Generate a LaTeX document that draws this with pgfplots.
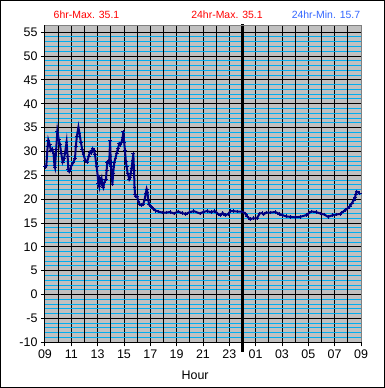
\documentclass[border=0pt]{standalone}
\usepackage{fontspec}
\setmainfont{Liberation Sans}
\usepackage{pgfplots}
\pgfplotsset{compat=1.18}
\definecolor{bggray}{RGB}{192,192,192}
\definecolor{navy}{RGB}{0,0,128}
\definecolor{titleblue}{RGB}{51,102,255}
\begin{document}
\begin{tikzpicture}[x=1bp,y=1bp]
\useasboundingbox (0,0) rectangle (385,388);
\draw[black, line width=1bp] (0.5,0.5) rectangle (384.5,387.5);
\node[red, font=\fontsize{10.5}{12}\selectfont] at (86.5,373) {6hr-Max. 35.1};
\node[red, font=\fontsize{10.5}{12}\selectfont] at (227,373) {24hr-Max. 35.1};
\node[titleblue, font=\fontsize{10.5}{12}\selectfont] at (326,373) {24hr-Min. 15.7};
\begin{axis}[
  at={(45bp,45.7bp)}, anchor=south west, scale only axis,
  width=316bp, height=316.3bp,
  xmin=0, xmax=24, ymin=-10, ymax=56.3,
  clip=false,
  axis background/.style={fill=bggray},
  axis line style={black, line width=1bp},
  xtick={0,2,...,24},
  xticklabels={09,11,13,15,17,19,21,23,01,03,05,07,09},
  ytick={-10,-5,...,55},
  minor y tick num=4,
  xtick pos=left, ytick pos=left,
  tick align=outside, major tick length=4bp, minor tick length=0pt,
  tick style={black, line width=1bp},
  extra x ticks={1,3,...,23},
  extra x tick labels={},
  extra x tick style={grid=major, major tick length=0pt},
  xmajorgrids, ymajorgrids, yminorgrids,
  major grid style={black, line width=1bp},
  minor grid style={cyan, line width=1bp},
  ticklabel style={font=\fontsize{12.5}{14}\selectfont},
  /pgf/number format/assume math mode=true,
  xlabel={Hour},
  xlabel style={font=\fontsize{12.5}{14}\selectfont, at={(axis description cs:0.475,-0.103)}, anchor=center},
]
\addplot[navy, line width=2bp, mark=+, mark size=1.9bp, mark options={line width=0.8bp}] coordinates {
(0,26.8) (0.1,27.0) (0.2,31.0) (0.25,32.4) (0.35,31.5) (0.45,30.2) (0.55,30.5) (0.65,29.5) (0.72,27.0) (0.76,26.6)
(0.85,30.5) (0.94,34.3) (1.04,32.5) (1.14,31.4) (1.24,29.5) (1.34,27.8) (1.44,28.5) (1.52,29.6) (1.64,32.0) (1.72,29.0)
(1.77,26.2) (1.84,25.8) (1.92,26.3) (2.0,27.0) (2.15,27.7) (2.28,28.6) (2.34,31.0) (2.42,33.2) (2.54,35.1) (2.62,33.8)
(2.72,32.0) (2.82,30.5) (2.92,29.4) (3.05,28.2) (3.2,27.8) (3.32,29.0) (3.42,29.9) (3.52,29.7) (3.62,30.6) (3.72,30.2)
(3.8,29.3) (3.92,26.8) (4.0,25.0) (4.05,23.3) (4.12,22.6) (4.17,24.2) (4.25,23.6) (4.3,24.2) (4.36,22.8) (4.43,22.4)
(4.5,23.5) (4.63,24.2) (4.68,26.0) (4.73,27.8) (4.8,28.0) (4.88,27.6) (4.94,32.3) (4.98,29.0) (5.02,26.8) (5.08,24.5)
(5.12,23.2) (5.18,25.5) (5.27,27.8) (5.35,28.6) (5.44,29.6) (5.54,30.6) (5.64,31.6) (5.73,31.4) (5.82,32.0) (5.9,33.0)
(5.95,34.2) (6.01,32.0) (6.07,30.3) (6.14,28.0) (6.2,26.8) (6.27,25.5) (6.33,24.9) (6.4,24.2) (6.45,24.5) (6.52,25.5)
(6.58,26.5) (6.65,28.2) (6.71,29.5) (6.76,26.0) (6.8,22.5) (6.84,21.0) (6.9,20.6) (7.0,20.5) (7.1,19.5) (7.2,18.9)
(7.33,18.7) (7.46,19.0) (7.56,19.8) (7.66,21.3) (7.72,22.1) (7.78,21.5) (7.84,19.8) (7.92,18.8) (8.05,18.4) (8.2,18.0)
(8.4,17.6) (8.6,17.4) (8.9,17.2) (9.2,17.2) (9.5,17.3) (9.8,17.0) (10.1,17.4) (10.4,17.1) (10.7,16.9) (11.0,17.3)
(11.3,17.5) (11.77,17.0) (12.0,17.3) (12.3,17.5) (12.6,17.3) (12.9,17.5) (13.1,17.0) (13.3,16.7) (13.5,17.1) (13.7,16.6)
(13.9,16.9) (14.1,17.5) (14.3,17.5) (14.6,17.4) (14.93,17.4) (15.1,17.2) (15.2,17.0) (15.35,16.4) (15.57,15.8) (15.8,16.0)
(16.1,16.0) (16.3,17.0) (16.5,17.1) (16.6,16.8) (16.8,17.2) (17.1,17.2) (17.5,17.3) (17.8,16.9) (18.0,16.7) (18.3,16.4)
(18.6,16.3) (19.0,16.2) (19.4,16.3) (19.87,16.7) (20.1,17.2) (20.25,17.4) (20.6,17.3) (20.9,17.0) (21.2,16.8) (21.5,16.3)
(21.8,16.6) (22.15,16.8) (22.4,16.9) (22.65,17.4) (22.85,17.8) (23.0,18.1) (23.15,18.5) (23.3,19.1) (23.45,19.8) (23.54,20.3)
(23.6,21.0) (23.67,21.6) (23.8,21.4) (23.9,21.3)
};
\addplot[black, line width=3bp, forget plot] coordinates {(15,-12.03) (15,56.74)};
\draw[gray, line width=1bp] (rel axis cs:0,1) -- (rel axis cs:1,1) -- (rel axis cs:1,0);
\end{axis}
\end{tikzpicture}
\end{document}
